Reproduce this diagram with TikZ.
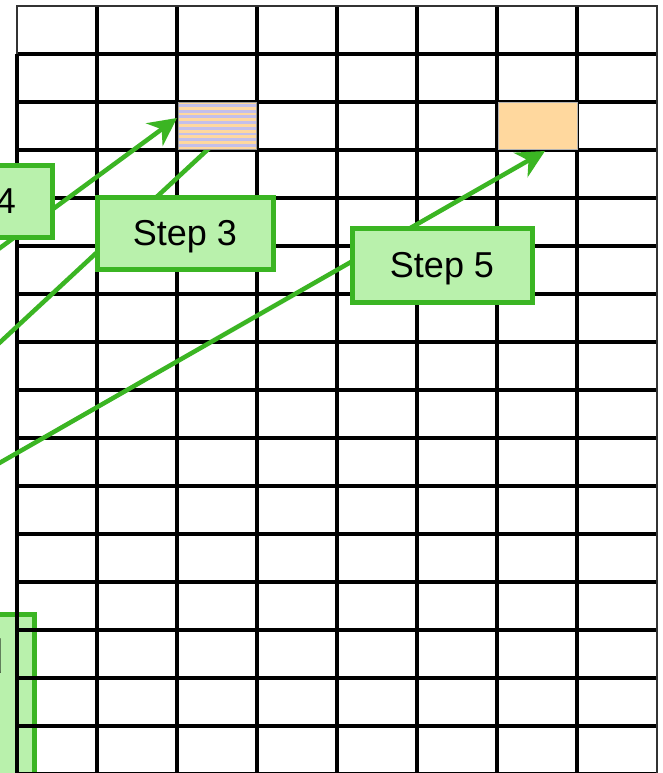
\documentclass[tikz,border=0pt]{standalone}
\usepackage{fontspec}
\setmainfont{Liberation Sans}
\usetikzlibrary{arrows.meta}
\definecolor{boxfill}{HTML}{B9F1AC}
\definecolor{boxline}{HTML}{3BB523}
\definecolor{cellorange}{HTML}{FFD89E}
\definecolor{celllav}{HTML}{C3BFEA}
\tikzset{
  stepbox/.style={draw=boxline, fill=boxfill, line width=5pt, outer sep=0pt,
    minimum width=176pt, minimum height=72pt, inner sep=0pt, text depth=0pt,
    font=\fontsize{36}{40}\selectfont},
  gridline/.style={line width=3.2pt, black},
  frameline/.style={line width=2.5pt, black!80},
  stepline/.style={draw=boxline, line width=4.5pt},
  steparrow/.style={stepline, -{Stealth[length=28pt,width=28pt,inset=9pt]}},
}
\begin{document}
\begin{tikzpicture}[x=1pt,y=-1pt]
\useasboundingbox (0,0) rectangle (662,773);
\clip (0,0) rectangle (662,773);
\fill[white] (0,0) rectangle (662,773);

% box lying under the grid, bottom left
\node[draw=boxline, fill=boxfill, line width=5pt, outer sep=0pt,
      minimum width=220pt, minimum height=200pt, anchor=north east]
      (lowbox) at (34,614) {};
\node[font=\fontsize{48}{52}\selectfont, anchor=east, inner sep=0pt]
      (lowtext) at (4.5,656) {d};

% grid
\foreach \i in {1,...,7}
  \draw[gridline] (17+80*\i,6) -- (17+80*\i,780);
\foreach \j in {1,...,16}
  \draw[gridline] (17,6+48*\j) -- (657,6+48*\j);
\draw[gridline] (17,54) -- (17,780);
\draw[frameline] (17,54) -- (17,6) -- (657,6) -- (657,780);

% arrows
\coordinate (s4) at (-60,292);
\coordinate (t4) at (177,118);
\coordinate (s3) at (-60,398);
\coordinate (t3) at (218,140);
\coordinate (s5) at (-60,497);
\coordinate (t5) at (545,151);
\draw[steparrow] (s4) -- (t4);
\draw[stepline] (s3) -- (t3);
\draw[steparrow] (s5) -- (t5);

% highlighted cells
\fill[cellorange] (178,102) rectangle (256.5,149);
\foreach \k in {0,...,7}
  \fill[celllav] (178,104+5.7*\k) rectangle (256.5,106.9+5.7*\k);
\draw[line width=0.8pt, black!40] (178,102) rectangle (256.5,149);
\node[fill=cellorange, draw=black!30, line width=0.8pt, inner sep=0pt,
      minimum width=78.5pt, minimum height=47pt, anchor=north west]
      (cellb) at (498,102) {};

% step labels
\node[stepbox] (step4) at (-36,201) {Step 4};
\node[stepbox] (step3) at (185,233) {Step 3};
\node[stepbox, minimum width=180pt, minimum height=74pt] (step5) at (442,265) {Step 5};
\end{tikzpicture}
\end{document}
